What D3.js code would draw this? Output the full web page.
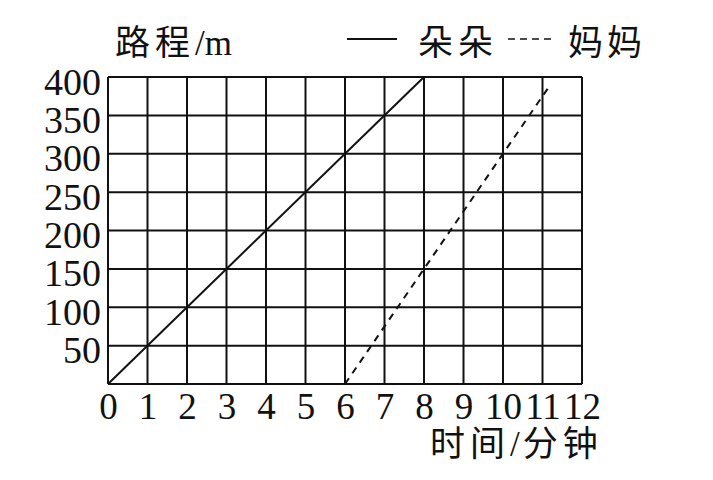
<!DOCTYPE html>
<html>
<head>
<meta charset="utf-8">
<script src="https://cdn.jsdelivr.net/npm/d3@7"></script>
<style>
  body { margin: 0; background: #fff; }
  svg { display: block; }
</style>
</head>
<body>
<script>
// minutes on x, metres on y
const xTicks = [0, 1, 2, 3, 4, 5, 6, 7, 8, 9, 10, 11, 12]
const yTicks = [50, 100, 150, 200, 250, 300, 350, 400]
const yGrid = [0, 50, 100, 150, 200, 250, 300, 350, 400]

const duoduo = [[0, 0], [8, 400]]
const mama = [[6, 0], [11.2, 390]]

const seriesNames = ['朵朵', '妈妈']

const W = 713, H = 480
const plotLeft = 108, plotRight = 582, plotTop = 77, plotBottom = 384

const svg = d3.select('body').append('svg')
    .attr('width', W)
    .attr('height', H)

const x = d3.scaleLinear().domain([0, 12]).range([plotLeft, plotRight])
const y = d3.scaleLinear().domain([0, 400]).range([plotBottom, plotTop])

const serif = '"Liberation Serif", "Times New Roman", serif'
const cjk = '"Noto Sans CJK SC", sans-serif'

// grid
const grid = svg.append('g')
    .attr('stroke', '#111')
    .attr('stroke-width', 2)

grid.selectAll('.vline')
    .data(xTicks)
    .enter()
    .append('line')
    .attr('class', 'vline')
    .attr('x1', d => x(d))
    .attr('x2', d => x(d))
    .attr('y1', y(0))
    .attr('y2', y(400))

grid.selectAll('.hline')
    .data(yGrid)
    .enter()
    .append('line')
    .attr('class', 'hline')
    .attr('x1', x(0))
    .attr('x2', x(12))
    .attr('y1', d => y(d))
    .attr('y2', d => y(d))

// axes, labels only
const xAxis = svg.append('g')
    .attr('transform', `translate(0,${plotBottom})`)
    .call(d3.axisBottom(x).tickValues(xTicks).tickSize(0).tickPadding(0))
xAxis.select('.domain').remove()
xAxis.selectAll('text')
    .attr('font-family', serif)
    .attr('font-size', 37)
    .attr('fill', '#111')
    .attr('dy', null)
    .attr('y', 35)

const yAxis = svg.append('g')
    .attr('transform', `translate(${plotLeft},0)`)
    .call(d3.axisLeft(y).tickValues(yTicks).tickSize(0).tickPadding(0))
yAxis.select('.domain').remove()
yAxis.selectAll('text')
    .attr('font-family', serif)
    .attr('font-size', 38)
    .attr('fill', '#111')
    .attr('dy', null)
    .attr('x', -7)
    .attr('y', 17)

// series
const line = d3.line()
    .x(d => x(d[0]))
    .y(d => y(d[1]))

svg.append('path')
    .datum(duoduo)
    .attr('d', line)
    .attr('fill', 'none')
    .attr('stroke', '#111')
    .attr('stroke-width', 2)

svg.append('path')
    .datum(mama)
    .attr('d', line)
    .attr('fill', 'none')
    .attr('stroke', '#111')
    .attr('stroke-width', 2)
    .attr('stroke-dasharray', '7,6')

// titles
const yTitle = svg.append('text')
    .attr('x', 115)
    .attr('y', 55)
    .attr('font-size', 35)
    .attr('fill', '#111')
yTitle.append('tspan').attr('font-family', cjk).attr('letter-spacing', 5).text('路程')
yTitle.append('tspan').attr('font-family', serif).text('/m')

const xTitle = svg.append('text')
    .attr('x', 430)
    .attr('y', 456)
    .attr('font-size', 35)
    .attr('fill', '#111')
xTitle.append('tspan').attr('font-family', cjk).attr('letter-spacing', 5).text('时间')
xTitle.append('tspan').attr('font-family', serif).attr('letter-spacing', 3).text('/')
xTitle.append('tspan').attr('font-family', cjk).attr('letter-spacing', 5).text('分钟')

// legend
const legend = svg.append('g')

legend.append('line')
    .attr('x1', 347).attr('x2', 397)
    .attr('y1', 39).attr('y2', 39)
    .attr('stroke', '#111')
    .attr('stroke-width', 2)

legend.append('text')
    .attr('x', 418)
    .attr('y', 55)
    .attr('font-family', cjk)
    .attr('font-size', 35)
    .attr('letter-spacing', 5)
    .attr('fill', '#111')
    .text(seriesNames[0])

legend.append('line')
    .attr('x1', 508).attr('x2', 552)
    .attr('y1', 39).attr('y2', 39)
    .attr('stroke', '#111')
    .attr('stroke-width', 1.5)
    .attr('stroke-dasharray', '7,5')

legend.append('text')
    .attr('x', 568)
    .attr('y', 55)
    .attr('font-family', cjk)
    .attr('font-size', 35)
    .attr('letter-spacing', 4)
    .attr('fill', '#111')
    .text(seriesNames[1])
</script>
</body>
</html>
